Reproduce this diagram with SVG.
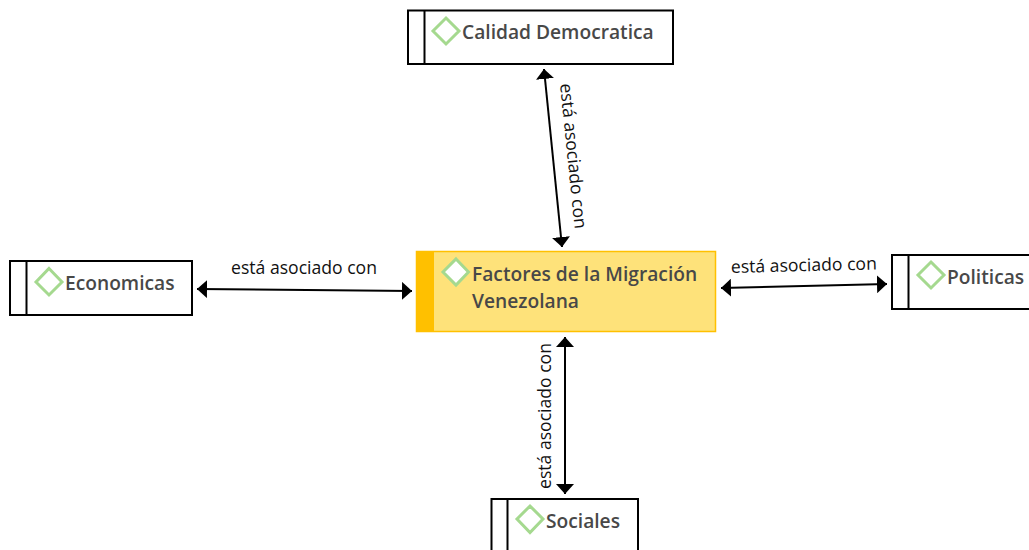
<svg xmlns="http://www.w3.org/2000/svg" width="1029" height="550" viewBox="0 0 1029 550">
<style>
.box{fill:#fff;stroke:#000;stroke-width:2}
.div{stroke:#000;stroke-width:2;fill:none}
.dia{fill:#fff;stroke:#a5d98f;stroke-width:3}
.t{font-family:"Open Sans","Noto Sans",sans-serif;font-size:19.200px;font-weight:600;fill:#484848}
.l{font-family:"Open Sans","Noto Sans",sans-serif;font-size:17.600px;fill:#111}
.c{stroke:#000;stroke-width:2;fill:none;marker-start:url(#a);marker-end:url(#a)}
</style>
<defs>
<marker id="a" markerUnits="userSpaceOnUse" markerWidth="12" markerHeight="18" refX="10" refY="9" orient="auto-start-reverse">
<path d="M0 0L10 9L0 18Z" fill="#000"/>
</marker>
</defs>
<rect width="1029" height="550" fill="#fff"/>
<g id="connectors">
<line class="c" x1="544" y1="69" x2="562" y2="247"/>
<line class="c" x1="197" y1="289" x2="412" y2="291"/>
<line class="c" x1="721" y1="288" x2="887" y2="284"/>
<line class="c" x1="565" y1="337" x2="565" y2="494"/>
<text class="l" transform="translate(560 84) rotate(84.2)">está asociado con</text>
<text class="l" x="231" y="274">está asociado con</text>
<text class="l" transform="translate(731 273) rotate(-1.4)">está asociado con</text>
<text class="l" transform="translate(551 489) rotate(-90)">está asociado con</text>
</g>
<g id="calidad">
<rect class="box" x="408" y="10.500" width="265" height="53.500"/>
<path class="div" d="M424.500 10.500V64"/>
<path class="dia" d="M446 18L459 31L446 44L433 31Z"/>
<text class="t" x="462" y="38.500">Calidad Democratica</text>
</g>
<g id="factores">
<rect x="416.500" y="251.500" width="299" height="80" fill="#fee27a" stroke="#ffc000" stroke-width="1.500"/>
<rect x="416" y="251" width="18" height="81" fill="#ffc000"/>
<path class="dia" d="M456 259L468.500 272L456 285L443 272Z"/>
<text class="t" x="472" y="280.500">Factores de la Migración</text>
<text class="t" x="472" y="307.500">Venezolana</text>
</g>
<g id="economicas">
<rect class="box" x="10" y="261" width="182" height="54"/>
<path class="div" d="M26.500 261V315"/>
<path class="dia" d="M49 268.500L62 282L49 295L36 282Z"/>
<text class="t" x="65" y="289.500">Economicas</text>
</g>
<g id="politicas">
<path class="box" d="M1030 255H892V309H1030"/>
<path class="div" d="M908.500 255V309"/>
<path class="dia" d="M931 262L944 275L931 288L918 275Z"/>
<text class="t" x="947" y="283.500">Politicas</text>
</g>
<g id="sociales">
<path class="box" d="M491.500 551V499H638V551"/>
<path class="div" d="M507.500 499V551"/>
<path class="dia" d="M530 506L543 519L530 532.500L517 519Z"/>
<text class="t" x="546" y="527.500">Sociales</text>
</g>
</svg>
